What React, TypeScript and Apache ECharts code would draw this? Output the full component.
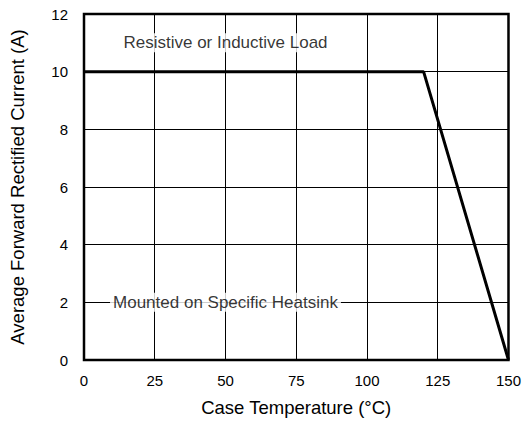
import React, { useEffect, useRef } from "react";
import * as echarts from "echarts";

const xTicks = [0, 25, 50, 75, 100, 125, 150];
const yTicks = [0, 2, 4, 6, 8, 10, 12];
const curveX = [0, 120, 150];
const curveY = [10, 10, 0];
const xAxisName = "Case Temperature (°C)";
const yAxisName = "Average Forward Rectified Current (A)";
const noteTop = "Resistive or Inductive Load";
const noteBottom = "Mounted on Specific Heatsink";
const notePos = [[50, 11], [50, 2]];

export default function App() {
  const ref = useRef<HTMLDivElement>(null);
  useEffect(() => {
    if (!ref.current) return;
    const chart = echarts.init(ref.current, null, { renderer: "svg" });
    const font = "Liberation Sans, Arial, Helvetica, sans-serif";
    chart.setOption({
      animation: false,
      backgroundColor: "#fff",
      textStyle: { fontFamily: font },
      grid: {
        left: 84,
        right: 14,
        top: 14,
        bottom: 62,
        show: true,
        borderColor: "#000",
        borderWidth: 2.5,
        backgroundColor: "transparent",
      },
      xAxis: {
        type: "value",
        min: xTicks[0],
        max: xTicks[xTicks.length - 1],
        interval: 25,
        name: xAxisName,
        nameLocation: "middle",
        nameGap: 38,
        nameTextStyle: { color: "#000", fontSize: 18.5, fontFamily: font },
        axisLine: { show: false },
        axisTick: { show: false },
        axisLabel: { color: "#000", fontSize: 15, margin: 13, fontFamily: font },
        splitLine: { show: true, lineStyle: { color: "#000", width: 1 } },
      },
      yAxis: {
        type: "value",
        min: yTicks[0],
        max: yTicks[yTicks.length - 1],
        interval: 2,
        name: yAxisName,
        nameLocation: "middle",
        nameGap: 57,
        nameTextStyle: { color: "#000", fontSize: 18.5, fontFamily: font },
        axisLine: { show: false },
        axisTick: { show: false },
        axisLabel: { color: "#000", fontSize: 15, margin: 16, fontFamily: font },
        splitLine: { show: true, lineStyle: { color: "#000", width: 1 } },
      },
      series: [
        {
          type: "line",
          data: curveX.map((x, i) => [x, curveY[i]]),
          symbol: "none",
          lineStyle: { color: "#000", width: 3 },
          z: 5,
        },
        {
          type: "scatter",
          data: notePos,
          symbolSize: 0,
          z: 6,
          label: {
            show: true,
            position: "inside",
            color: "#000",
            fontSize: 17,
            fontFamily: font,
            formatter: (p: any) => (p.dataIndex === 0 ? noteTop : noteBottom),
            backgroundColor: "#fff",
            padding: [1, 3],
          },
        },
      ],
    });
    return () => chart.dispose();
  }, []);
  return <div ref={ref} style={{ width: 524, height: 422, position: "absolute", left: 0, top: 0 }} />;
}
